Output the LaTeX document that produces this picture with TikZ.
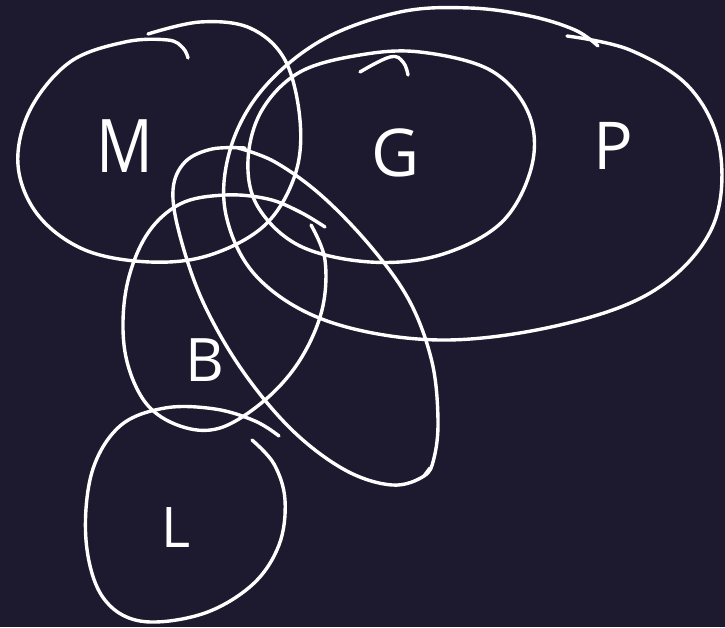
\documentclass[tikz,border=0pt]{standalone}
\usepackage{fontspec}
\setmainfont{Open Sans}
\definecolor{bgc}{RGB}{29,26,47}
\tikzset{
  stroke/.style={draw=white, line width=3.4pt, line cap=round, line join=round},
  lbl/.style={text=white, inner sep=0pt}
}
\begin{document}
\begin{tikzpicture}[x=1pt,y=-1pt]
\fill[bgc] (0,0) rectangle (725,627);
\useasboundingbox (0,0) rectangle (725,627);
% M
\draw[stroke] plot[smooth, tension=0.6] coordinates {(148,34) (200,22) (250,28) (285,60) (300,120) (295,175) (265,225) (210,255) (150,262) (85,250) (38,215) (18,165) (30,110) (70,62) (125,42) (168,40) (183,48) (188,58)};
% G
\draw[stroke] plot[smooth cycle, tension=0.6] coordinates {(420,52) (490,70) (528,112) (532,165) (502,222) (440,255) (370,262) (300,246) (258,207) (248,160) (262,110) (300,72) (360,55)};
\draw[stroke] plot[smooth, tension=0.7] coordinates {(360,72) (390,57) (403,62) (408,75)};
% P
\draw[stroke] plot[smooth, tension=0.6] coordinates {(567,36) (630,50) (690,88) (720,150) (712,228) (655,290) (560,325) (440,340) (330,322) (258,278) (226,215) (230,150) (262,90) (322,40) (400,12) (470,8) (530,16) (575,30) (598,46)};
% B
\draw[stroke] plot[smooth, tension=0.6] coordinates {(311,225) (325,260) (322,310) (300,360) (265,400) (220,428) (180,426) (145,402) (125,352) (126,290) (146,236) (180,204) (225,195) (268,199) (300,212) (325,227)};
% tilted
\draw[stroke] plot[smooth, tension=0.6] coordinates {(238,148) (275,162) (322,196) (372,248) (410,302) (432,362) (438,420) (434,458) (424,476) (392,485) (345,470) (292,430) (242,370) (203,302) (180,236) (173,190) (185,162) (212,149) (245,148)};
\draw[stroke] (424,476) -- (430,468);
% L
\draw[stroke] plot[smooth, tension=0.6] coordinates {(252,440) (274,464) (285,500) (279,545) (252,585) (202,614) (140,621) (102,596) (86,540) (92,472) (120,426) (165,408) (215,409) (255,421) (279,436)};
% labels
\node[lbl, font=\fontsize{74}{74}\selectfont, xscale=0.85] (m) at (125,146) {M};
\node[lbl, font=\fontsize{66}{66}\selectfont] (g) at (396,153) {G};
\node[lbl, font=\fontsize{66}{66}\selectfont] (p) at (613,146) {P};
\node[lbl, font=\fontsize{60}{60}\selectfont] (b) at (205,360) {B};
\node[lbl, font=\fontsize{56}{56}\selectfont] (l) at (176,528) {L};
\end{tikzpicture}
\end{document}
